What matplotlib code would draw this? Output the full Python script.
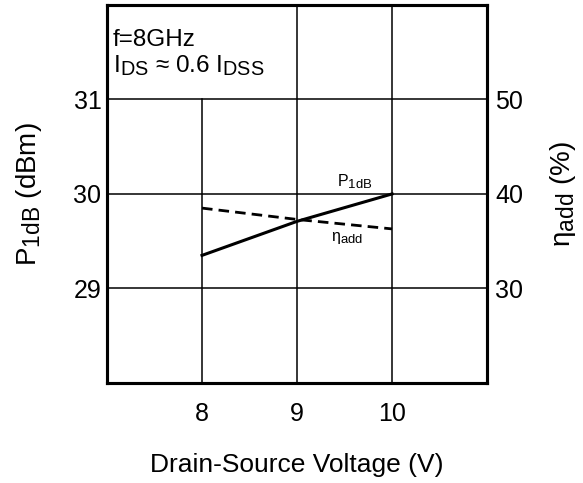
import matplotlib
matplotlib.use("Agg")
from matplotlib import pyplot as plt
import matplotlib._mathtext as mt

# bigger subscripts, closer to the reference lettering
mt.SHRINK_FACTOR = 0.82

plt.rcParams['font.family'] = ['Liberation Sans', 'DejaVu Sans']
plt.rcParams['mathtext.fontset'] = 'custom'
plt.rcParams['mathtext.rm'] = 'Liberation Sans'
plt.rcParams['mathtext.it'] = 'Liberation Sans'

vds = [8, 9, 10]
p1db = [29.35, 29.71, 30.0]
eta_add = [38.5, 37.3, 36.3]

x_ticks = [8, 9, 10]
left_ticks = [29, 30, 31]
right_ticks = [30, 40, 50]

fig = plt.figure(figsize=(5.83, 4.83), dpi=100)
ax = fig.add_axes([0.1835, 0.207, 0.652, 0.783])
ax2 = ax.twinx()

ax.set_xlim(7, 11)
ax.set_ylim(28, 32)
ax2.set_ylim(20, 60)

# grid: the 8 V line stops under the text box
for xv in x_ticks:
    top = 31 if xv == 8 else 32
    ax.plot([xv, xv], [28, top], color='black', lw=1.1, zorder=1)
for yv in left_ticks:
    ax.axhline(yv, color='black', lw=1.1, zorder=1)

ax.plot(vds, p1db, color='black', lw=2.2, zorder=3)
ax2.plot(vds, eta_add, color='black', lw=2.0, ls=(0, (3.8, 2.2)), zorder=3)

ax.set_xticks(x_ticks)
ax.set_yticks(left_ticks)
ax2.set_yticks(right_ticks)
ax.tick_params(axis='x', length=0, pad=14, labelsize=18)
ax.tick_params(axis='y', length=0, pad=4, labelsize=18)
ax2.tick_params(axis='y', length=0, pad=6, labelsize=18)

for a in (ax, ax2):
    for s in a.spines.values():
        s.set_linewidth(2.2)

ax.set_xlabel('Drain-Source Voltage (V)', fontsize=19)
ax.xaxis.set_label_coords(0.5, -0.185)
ax.set_ylabel(r'P$_{\mathrm{1dB}}$ (dBm)', fontsize=20)
ax.yaxis.set_label_coords(-0.165, 0.5)
ax2.set_ylabel(r'η$_{\mathrm{add}}$ (%)', fontsize=20)
ax2.yaxis.set_label_coords(1.16, 0.5)

ax.text(7.06, 31.56, 'f=8GHz', fontsize=17.5, va='baseline', ha='left')
ax.text(7.06, 31.29, r'I$_{\mathrm{DS}}$ ≈ 0.6 I$_{\mathrm{DSS}}$', fontsize=17.5, va='baseline', ha='left')

ax.text(9.42, 30.085, r'P$_{\mathrm{1dB}}$', fontsize=11.5, va='baseline', ha='left')
ax.text(9.36, 29.5, r'η$_{\mathrm{add}}$', fontsize=11.5, va='baseline', ha='left')

fig.savefig('out.png', dpi=100)
